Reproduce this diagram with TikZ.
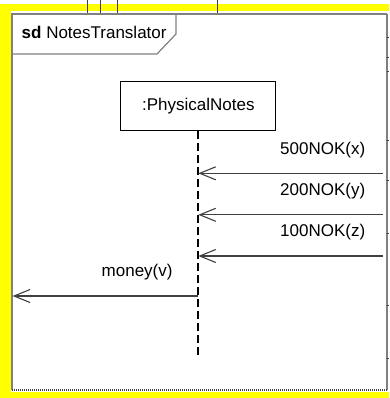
\documentclass[tikz,border=0pt]{standalone}
\usepackage{fontspec}
\setmainfont{Liberation Sans}
\usetikzlibrary{arrows.meta}
\definecolor{frameyellow}{RGB}{255,255,0}
\definecolor{framegray}{RGB}{128,128,128}
\definecolor{msggray}{RGB}{64,64,64}
\tikzset{
  umltext/.style={font=\fontsize{17}{20}\selectfont, text=black, inner sep=0pt},
  framegrayline/.style={draw=framegray, line width=1.2pt},
  lifebox/.style={draw=black, line width=1.2pt, fill=white, minimum width=155pt, minimum height=49pt, inner sep=0pt, font=\fontsize{17}{20}\selectfont},
  lifeline/.style={draw=black, line width=2pt, dash pattern=on 8pt off 4pt},
  msg/.style={draw=msggray, line width=1.1pt, -{Straight Barb[length=16pt,width=13pt,line width=1.1pt]}},
  tickmark/.style={draw=msggray, line width=1pt},
}
\begin{document}
\begin{tikzpicture}[x=1pt,y=-1pt]
\useasboundingbox (0,0) rectangle (389,398);
% yellow border
\fill[frameyellow] (0,4) rectangle (389,11.5);
\fill[frameyellow] (0,4) rectangle (10.5,398);
\fill[frameyellow] (0,392) rectangle (389,398);
% small marks at top
\foreach \xx in {87,100,117,217} \draw[tickmark] (\xx,0) -- (\xx,14);
% frame
\draw[framegrayline] (12,390) -- (12,14) -- (386.5,14);
\draw[draw=framegray, line width=2pt] (386.5,14) -- (386.5,390);
\draw[draw=msggray, line width=2pt, dash pattern=on 1pt off 1pt] (12,390) -- (387.5,390);
% small marks on the right
\foreach \yy in {37.7,57.7,71.7,140.7,180.7,233.7,305,358} \draw[tickmark] (386.5,\yy) -- (389,\yy);
% frame title pentagon
\draw[framegrayline] (12,54) -- (157,54) -- (176,34) -- (176,14);
\node[umltext, anchor=base west] (title) at (21.5,38.8) {\textbf{sd} NotesTranslator};
% lifeline
\node[lifebox] (pn) at (198.3,106.3) {:PhysicalNotes};
\coordinate (llend) at (198.3,357);
\draw[lifeline] (pn.south) -- (llend);
% gates and lifeline points
\coordinate (g1) at (383,173.3);
\coordinate (g2) at (383,214.8);
\coordinate (g3) at (383,256);
\coordinate (p1) at (198.3,173.3);
\coordinate (p2) at (198.3,214.8);
\coordinate (p3) at (198.3,256);
\coordinate (p4) at (198.3,296);
\coordinate (g4) at (12.6,296);
% messages
\draw[msg] (g1) -- (p1);
\draw[msg] (g2) -- (p2);
\draw[msg] (g3) -- (p3);
\draw[msg] (p4) -- (g4);
% labels
\node[umltext, anchor=base west] (m1) at (280,154) {500NOK(x)};
\node[umltext, anchor=base west] (m2) at (280,195.5) {200NOK(y)};
\node[umltext, anchor=base west] (m3) at (280,236.7) {100NOK(z)};
\node[umltext, anchor=base west] (m4) at (101.5,276.7) {money(v)};
\end{tikzpicture}
\end{document}
